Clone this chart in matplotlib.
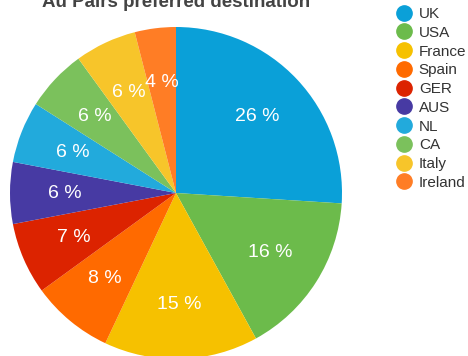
import matplotlib

matplotlib.use("Agg")
import matplotlib.pyplot as plt
from matplotlib.lines import Line2D

# 数据
countries = ["UK", "USA", "France", "Spain", "GER", "AUS", "NL", "CA", "Italy", "Ireland"]
shares = [26, 16, 15, 8, 7, 6, 6, 6, 6, 4]
colors = [
    "#0aa0d8", "#6cbb4b", "#f6c100", "#ff6a00", "#dc2300",
    "#473aa3", "#22aadc", "#7bc15c", "#f7c52a", "#ff7d25",
]
title = "Au Pairs preferred destination"

plt.rcParams["font.family"] = ["Liberation Sans", "DejaVu Sans"]

W, H = 468, 356
fig = plt.figure(figsize=(W / 100, H / 100), dpi=100)

# 饼图位置（像素换算）
cx, cy, r = 176, 193, 166
ax = fig.add_axes([(cx - r) / W, (H - cy - r) / H, 2 * r / W, 2 * r / H])
ax.pie(
    shares,
    colors=colors,
    startangle=90,
    counterclock=False,
    radius=1,
    autopct=lambda p: f"{p:.0f} %",
    pctdistance=0.67,
    textprops={"color": "white", "fontsize": 14},
    wedgeprops={"linewidth": 0},
)
ax.set_xlim(-1, 1)
ax.set_ylim(-1, 1)
ax.set_aspect("equal")
ax.axis("off")

fig.text(cx / W, 1 - 7 / H, title, ha="center", va="baseline",
         fontsize=13.5, fontweight="bold", color="#444444")

# 图例
handles = [
    Line2D([], [], marker="o", linestyle="", markersize=11,
           markerfacecolor=c, markeredgecolor=c)
    for c in colors
]
leg = fig.legend(
    handles, countries,
    loc="upper left",
    bbox_to_anchor=(389 / W, 1 - 1 / H),
    frameon=False,
    fontsize=11,
    labelspacing=0.31,
    handletextpad=0.45,
    handlelength=1.1,
    borderaxespad=0,
)
for t in leg.get_texts():
    t.set_color("#333333")

fig.savefig("out.png", dpi=100)
